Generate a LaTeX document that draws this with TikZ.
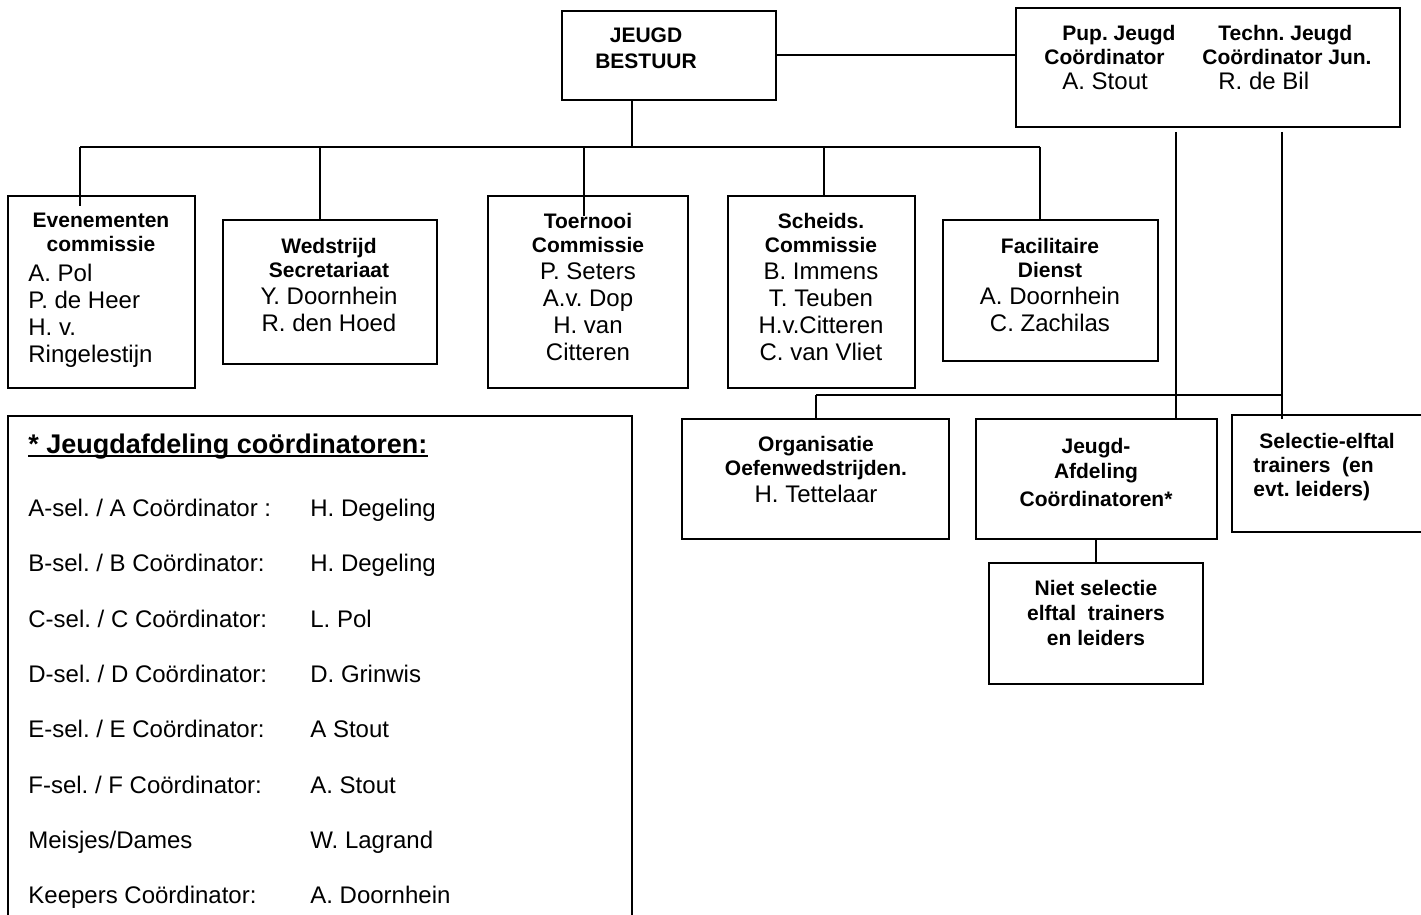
\documentclass[tikz,border=0pt]{standalone}
\usepackage{fontspec}
\setmainfont{Liberation Sans}
\usetikzlibrary{fit}
\newcommand{\kop}{\fontsize{10.5}{12}\selectfont\bfseries}
\frenchspacing

\tikzset{
  blok/.style={draw, line width=1pt, inner sep=0pt},
  tekst/.style={inner sep=0pt, align=center, anchor=north, font=\fontsize{12}{13.6}\selectfont},
  rij/.style={inner sep=0pt, anchor=base west, font=\fontsize{12}{13.6}\selectfont},
  lijn/.style={line width=1pt},
}

\begin{document}
\begin{tikzpicture}[x=0.5pt, y=-0.5pt]
	\useasboundingbox (0,0) rectangle (1421,915);
	% top
	\node[blok, fit={(562,11) (776,100)}] (bestuur) {};
	\node[tekst] (bestuur-t) at (646,27.5) {{\kop JEUGD}\\[-0.6pt]{\kop BESTUUR}};
	\node[blok, fit={(1016,8) (1400,127)}] (pup) {};
	\node[tekst, anchor=north west, align=left] (pup-l) at (1062,24.5) {{\kop Pup. Jeugd}\\[-1.6pt]\hspace*{-9pt}{\kop Coördinator}\\[-1pt]A. Stout};
	\node[tekst, anchor=north west, align=left] (pup-r) at (1218,24.5) {{\kop Techn. Jeugd}\\[-1.6pt]\hspace*{-8pt}{\kop Coördinator Jun.}\\[-1pt]R. de Bil};
	% commissies
	\node[blok, fit={(8,196) (195,388)}] (even) {};
	\node[tekst] (even-kop) at (101,212.5) {{\kop Evenementen}\\[-1.6pt]{\kop commissie}};
	\node[tekst, anchor=north west, align=left] (even-t) at (28,263.5) {A. Pol\\P. de Heer\\H. v.\\Ringelestijn};
	\node[blok, fit={(223,220) (437,364)}] (wed) {};
	\node[tekst] (wed-t) at (329,237.5) {{\kop Wedstrijd}\\[-1.6pt]{\kop Secretariaat}\\Y. Doornhein\\R. den Hoed};
	\node[blok, fit={(488,196) (688,388)}] (toer) {};
	\node[tekst] (toer-t) at (588,212.5) {{\kop Toernooi}\\[-1.6pt]{\kop Commissie}\\P. Seters\\A.v. Dop\\H. van\\Citteren};
	\node[blok, fit={(728,196) (915,388)}] (scheids) {};
	\node[tekst] (scheids-t) at (821,212.5) {{\kop Scheids.}\\[-1.6pt]{\kop Commissie}\\B. Immens\\T. Teuben\\H.v.Citteren\\C. van Vliet};
	\node[blok, fit={(943,220) (1158,361)}] (facil) {};
	\node[tekst] (facil-t) at (1050,237.5) {{\kop Facilitaire}\\[-1.6pt]{\kop Dienst}\\A. Doornhein\\C. Zachilas};
	% onder
	\node[blok, fit={(682,419) (949,539)}] (org) {};
	\node[tekst] (org-t) at (816,435.5) {{\kop Organisatie}\\[-1.6pt]{\kop Oefenwedstrijden.}\\H. Tettelaar};
	\node[blok, fit={(976,419) (1217,539)}] (jeugd) {};
	\node[tekst] (jeugd-t) at (1096,437.5) {{\kop Jeugd-}\\[-1.1pt]{\kop Afdeling}\\[0.4pt]{\kop Coördinatoren*}};
	\node[blok, fit={(1232,415) (1440,532)}] (sel) {};
	\node[tekst, anchor=north west, align=left] (sel-t) at (1253,432.5) {{\kop\hspace*{3pt}Selectie-elftal}\\[-1.6pt]{\kop trainers\ \ (en}\\[-1.6pt]{\kop evt. leiders)}};
	\node[blok, fit={(989,563) (1203,684)}] (niet) {};
	\node[tekst] (niet-t) at (1096,579.5) {{\kop Niet selectie}\\[-1.1pt]{\kop elftal\ \ trainers}\\[-1.1pt]{\kop en leiders}};
	% legenda
	\node[blok, fit={(8,416) (632,940)}] (legenda) {};
	\node[rij, font=\fontsize{13.5}{15}\selectfont\bfseries] (leg-kop) at (28,453) {* Jeugdafdeling coördinatoren:};
	\draw[lijn] ([yshift=-1.5pt]leg-kop.base west) -- ([yshift=-1.5pt]leg-kop.base east);
	\foreach \rol/\naam [count=\i] in {{A-sel. / A Coördinator :}/{H. Degeling}, {B-sel. / B Coördinator:}/{H. Degeling}, {C-sel. / C Coördinator:}/{L. Pol}, {D-sel. / D Coördinator:}/{D. Grinwis}, {E-sel. / E Coördinator:}/{A Stout}, {F-sel. / F Coördinator:}/{A. Stout}, {Meisjes/Dames}/{W. Lagrand}, {Keepers Coördinator:}/{A. Doornhein}}{
		\node[rij] (rol\i) at (28,{516.5+55.3*(\i-1)}) {\rol};
		\node[rij] (naam\i) at (310,{516.5+55.3*(\i-1)}) {\naam};
	}
	% lijnen
	\draw[lijn] (bestuur.east) -- (bestuur.east -| pup.west);
	\coordinate (tak) at (632,147);
	\draw[lijn] (tak |- bestuur.south) -- (tak);
	\coordinate (r1) at (80,147);
	\coordinate (r2) at (320,147);
	\coordinate (r3) at (584,147);
	\coordinate (r4) at (824,147);
	\coordinate (r5) at (1040,147);
	\draw[lijn] (r1) -- (r5);
	\draw[lijn] (r1) -- ([yshift=-5.5pt]r1 |- even.north);
	\draw[lijn] (r2) -- (r2 |- wed.north);
	\draw[lijn] (r3) -- ([yshift=-10.5pt]r3 |- toer.north);
	\draw[lijn] (r4) -- (r4 |- scheids.north);
	\draw[lijn] (r5) -- (r5 |- facil.north);
	\coordinate (v1) at (1176,132);
	\coordinate (v2) at (1282,132);
	\coordinate (h1) at (816,395);
	\draw[lijn] (v1) -- (v1 |- jeugd.north);
	\draw[lijn] (v2) -- ([yshift=-2.5pt]v2 |- sel.north);
	\draw[lijn] (h1) -- (h1 -| v2);
	\draw[lijn] (h1) -- (h1 |- org.north);
	\draw[lijn] (jeugd.south -| niet.north) -- (niet.north);
\end{tikzpicture}
\end{document}
